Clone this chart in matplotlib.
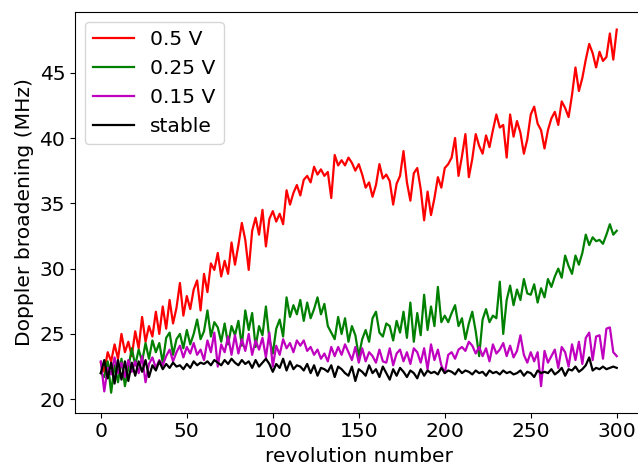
import numpy as np
import matplotlib
matplotlib.use('Agg')
import matplotlib.pyplot as plt

# revolution number, every 2nd revolution
rev = np.arange(0, 301, 2)

v050 = [22.8, 22.1, 23.6, 22.9, 24.2, 23.1, 25.0, 23.6, 24.4, 23.3,
        25.2, 23.9, 26.3, 24.4, 25.6, 24.8, 26.7, 25.0, 27.1, 25.4,
        27.6, 25.8, 27.0, 28.9, 26.4, 27.9, 26.9, 28.4, 29.1, 26.8,
        29.6, 28.2, 30.4, 29.9, 31.2, 29.4, 30.6, 29.6, 32.0, 30.3,
        31.8, 33.5, 32.2, 29.9, 32.9, 33.9, 32.6, 34.5, 31.7, 33.8,
        34.4, 33.6, 34.2, 33.4, 36.0, 34.9, 35.8, 36.4, 35.6, 36.8,
        37.1, 36.6, 37.8, 37.2, 37.6, 37.1, 37.4, 35.4, 38.7, 37.9,
        38.3, 37.9, 38.5, 38.1, 37.5, 38.0, 37.2, 36.2, 36.6, 35.5,
        36.4, 38.0, 36.9, 37.2, 36.7, 34.9, 36.5, 37.1, 39.0, 36.6,
        35.2, 37.3, 37.7, 36.1, 33.7, 35.9, 34.1, 35.4, 37.0, 36.2,
        37.7, 38.0, 38.5, 40.0, 37.1, 38.6, 40.3, 37.0, 38.4, 40.3,
        39.4, 38.8, 40.2, 39.3, 40.6, 41.8, 40.8, 41.0, 38.5, 41.8,
        40.1, 41.3, 40.4, 38.8, 39.9, 41.8, 42.4, 41.1, 40.6, 39.2,
        40.6, 41.5, 42.0, 41.0, 42.8, 42.3, 41.6, 43.3, 45.4, 43.6,
        44.6, 46.0, 47.2, 46.5, 45.4, 46.6, 45.9, 46.2, 48.0, 46.0,
        48.3]

v025 = [22.0, 21.7, 22.9, 20.5, 22.6, 21.3, 23.1, 21.0, 22.4, 23.9,
        22.6, 23.8, 22.9, 24.3, 23.1, 24.5, 23.6, 24.3, 22.8, 24.7,
        25.1, 23.4, 24.6, 25.0, 23.9, 25.3, 24.2, 25.0, 26.1, 24.6,
        25.2, 26.8, 24.8, 25.9, 25.5, 24.4, 25.8, 24.2, 25.6, 24.9,
        26.0, 24.1, 26.8, 25.3, 26.6, 24.0, 25.6, 24.9, 27.1, 24.6,
        23.5, 25.4, 26.1, 24.8, 27.8, 26.3, 27.2, 26.5, 27.6, 26.0,
        27.4, 26.2, 26.9, 27.8, 26.5, 27.3, 25.6, 25.1, 24.6, 26.3,
        25.0, 26.2, 24.4, 25.6, 24.9, 23.3, 24.6, 25.3, 24.4, 26.2,
        26.7, 25.1, 24.8, 25.8, 25.6, 24.5, 26.0, 25.1, 26.7, 24.7,
        27.4, 24.4, 26.6, 24.9, 28.0, 25.3, 27.1, 25.6, 28.6, 25.9,
        26.4, 25.9, 26.6, 27.2, 25.6, 26.2, 24.6, 25.8, 26.7, 25.2,
        23.3, 26.1, 26.9, 25.9, 26.4, 26.2, 29.0, 25.0, 27.6, 28.7,
        27.2, 28.4, 27.6, 29.2, 28.1, 28.0, 28.8, 27.4, 28.5, 27.8,
        29.2, 28.6, 29.4, 30.0, 29.3, 31.0, 30.2, 29.6, 31.0, 30.3,
        31.2, 32.6, 31.8, 32.4, 32.1, 32.2, 31.9, 32.6, 33.4, 32.6,
        32.9]

v015 = [22.9, 20.6, 22.4, 21.9, 23.2, 22.0, 22.8, 21.7, 23.0, 22.1,
        22.9, 22.0, 23.3, 21.3, 22.7, 23.2, 22.4, 23.0, 22.6, 23.3,
        23.8, 22.9, 23.6, 24.1, 23.2, 24.0, 23.5, 24.3, 23.4, 23.8,
        23.0, 24.5, 23.6, 25.1, 22.5, 24.2, 23.6, 24.8, 23.4, 24.9,
        23.5, 24.6, 23.7, 25.0, 23.4, 24.5, 23.8, 24.7, 23.2, 25.1,
        22.5, 24.1, 23.4, 24.6, 23.9, 24.3, 23.6, 24.5, 24.1, 24.5,
        23.7, 24.0, 23.4, 23.8, 23.1, 23.5, 22.9, 24.0, 23.3, 24.0,
        23.4, 24.2, 23.6, 23.0, 24.0, 22.8, 23.9, 22.9, 23.6, 23.3,
        22.8, 23.8, 22.9, 22.8, 23.9, 22.6, 23.5, 23.8, 22.9, 23.6,
        22.7, 23.9, 23.6, 22.8, 23.9, 22.3, 24.2, 23.0, 23.8, 22.6,
        22.0, 23.4, 23.6, 23.1, 23.8, 24.0, 23.7, 24.4, 24.1, 23.5,
        24.0, 23.3, 23.9, 22.9, 24.2, 23.5, 23.8, 24.3, 23.3, 24.1,
        23.2, 23.7, 24.9, 23.4, 22.8, 23.6, 22.9, 23.6, 21.0, 23.7,
        22.8, 23.3, 23.8, 22.4, 24.0, 23.6, 22.5, 24.2, 23.0, 24.4,
        22.7, 24.7, 25.1, 23.0, 24.8, 24.9, 23.1, 25.4, 25.5, 23.6,
        23.3]

stable = [22.0, 23.0, 21.6, 22.8, 21.2, 23.0, 21.5, 22.9, 21.4, 22.8,
          21.8, 22.9, 22.1, 23.0, 21.7, 22.6, 22.2, 22.9, 22.3, 22.7,
          22.4, 22.8, 22.5, 22.6, 22.3, 22.7, 22.4, 22.9, 22.6, 22.8,
          22.7, 22.9, 22.6, 23.0, 22.8, 22.6, 23.0, 22.7, 23.1, 22.8,
          22.6, 23.0, 22.7, 22.9, 22.4, 23.0, 22.5, 22.8, 23.1, 22.7,
          22.1, 22.7, 22.4, 23.1, 22.2, 22.9, 22.3, 22.6, 22.5, 22.2,
          22.7, 22.0, 22.6, 21.8, 22.4, 22.3, 22.1, 22.6, 21.7, 22.5,
          22.3, 22.0, 21.8, 22.5, 21.4, 22.3, 22.1, 21.8, 22.6, 22.0,
          22.3, 21.7, 22.5, 22.0, 21.5, 22.3, 21.8, 22.4, 22.1, 21.7,
          22.2, 22.0, 21.6, 22.3, 21.8, 22.2, 22.0, 22.1, 21.9, 22.4,
          22.0, 22.2, 22.1, 21.9, 22.3, 22.0, 22.2, 22.1, 21.9, 22.2,
          22.0, 22.1, 21.8, 22.2, 22.0, 22.1, 21.9, 22.2, 22.0, 22.1,
          21.9, 22.0, 22.2, 21.8, 22.1, 22.0, 21.7, 22.2, 22.0, 22.1,
          22.0, 22.3, 21.9, 22.1, 22.4, 21.8, 22.3, 22.2, 22.5, 22.1,
          22.3, 22.6, 23.2, 22.2, 22.4, 22.3, 22.5, 22.3, 22.4, 22.5,
          22.4]

plt.rcParams['font.size'] = 14.6

fig = plt.figure(figsize=(6.38, 4.66), dpi=100)
ax = fig.add_axes([0.1176, 0.1144, 0.8895, 0.8605])

ax.plot(rev, v050, color='r', linewidth=1.6, label='0.5 V')
ax.plot(rev, v025, color='g', linewidth=1.6, label='0.25 V')
ax.plot(rev, v015, color='m', linewidth=1.6, label='0.15 V')
ax.plot(rev, stable, color='k', linewidth=1.6, label='stable')

ax.set_xlim(-15, 315)
ax.set_ylim(18.97, 49.67)
ax.set_xticks([0, 50, 100, 150, 200, 250, 300])
ax.set_yticks([20, 25, 30, 35, 40, 45])
ax.set_xlabel('revolution number')
ax.set_ylabel('Doppler broadening (MHz)')
ax.legend(loc='upper left')

fig.savefig('out.png', dpi=100)
